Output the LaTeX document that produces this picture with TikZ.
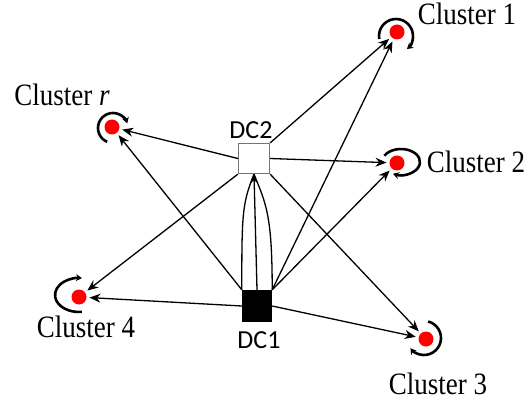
\documentclass[tikz,border=0pt]{standalone}
\usepackage{fontspec}
\usepackage{graphicx}
\setmainfont{Liberation Serif}
\newfontfamily\dcfont{Carlito}
\usetikzlibrary{arrows.meta}
\newcommand{\vstretch}[1]{\scalebox{1}[1.15]{#1}}
\begin{document}
\begin{tikzpicture}[x=1pt,y=1pt,
  dot/.style={circle,fill=red,minimum size=15pt,inner sep=0pt,outer sep=3pt},
  dctwo/.style={draw=black!55,line width=1.3pt,fill=white,minimum width=31pt,minimum height=30pt,inner sep=0pt},
  dcone/.style={fill=black,minimum width=30pt,minimum height=32pt,inner sep=0pt},
  clab/.style={font=\fontsize{27}{30}\selectfont,inner sep=0pt},
  dclab/.style={font=\dcfont\fontsize{26}{28}\selectfont,inner sep=0pt},
  conn/.style={line width=1.3pt,-{Stealth[length=11pt,width=9pt]}},
  lens/.style={line width=1.3pt},
  loopar/.style={line width=2.6pt,-{Stealth[length=6pt,width=7pt]}}]
\useasboundingbox (0,0) rectangle (530,-401);
% data centres
\node[dctwo] (DC2) at (254,-158.5) {};
\node[dcone] (DC1) at (257,-306) {};
% clusters
\node[dot] (C1) at (397,-32) {};
\node[dot] (Cr) at (112,-127) {};
\node[dot] (C2) at (397,-163) {};
\node[dot] (C4) at (79,-297) {};
\node[dot] (C3) at (426,-339) {};
% labels
\node[clab] (L1) at (467,-14) {\vstretch{Cluster 1}};
\node[clab] (Lr) at (62,-95) {\vstretch{Cluster \textit{r}}};
\node[clab] (L2) at (476,-162) {\vstretch{Cluster 2}};
\node[clab] (L4) at (86,-327) {\vstretch{Cluster 4}};
\node[clab] (L3) at (438,-384) {\vstretch{Cluster 3}};
\node[dclab] (LDC2) at (251,-130) {DC2};
\node[dclab] (LDC1) at (259,-340) {DC1};
% connectors from DC2
\draw[conn] (DC2.north east) -- (C1);
\draw[conn] (DC2.west) -- (Cr);
\draw[conn] (DC2.east) -- (C2);
\draw[conn] (DC2.south west) -- (C4);
\draw[conn] (DC2.south east) -- (C3);
% connectors from DC1
\draw[conn] (DC1.north east) -- (C1);
\draw[conn] (DC1.north east) -- (C2);
\draw[conn] (DC1.east) -- (C3);
\draw[conn] (DC1.north west) -- (Cr);
\draw[conn] (DC1.west) -- (C4);
% DC1 to DC2
\draw[lens] (DC1.north west) .. controls +(90:75) and +(-112:32) .. (DC2.south);
\draw[lens] (DC1.north east) .. controls +(90:75) and +(-68:32) .. (DC2.south);
\draw[line width=1.3pt,-{Stealth[length=9pt,width=7pt]}] (DC1.north) -- (DC2.south);
% cluster loops
\draw[loopar] ([shift={(-1,-4)},shift={(190:17)}]C1.center) arc[start angle=190,end angle=-50,radius=17];
\draw[loopar] ([shift={(1,-1)},shift={(247:15)}]Cr.center) arc[start angle=247,end angle=18,radius=15];
\draw[loopar] ([shift={(4,1)},shift={(151:19 and 13)}]C2.center) arc[start angle=151,end angle=-115,x radius=19,y radius=13];
\draw[loopar] ([shift={(0,2)},shift={(277:24 and 17)}]C4.center) arc[start angle=277,end angle=83,x radius=24,y radius=17];
\draw[loopar] ([shift={(-2,1)},shift={(76:17)}]C3.center) arc[start angle=76,end angle=-143,radius=17];
\end{tikzpicture}
\end{document}
